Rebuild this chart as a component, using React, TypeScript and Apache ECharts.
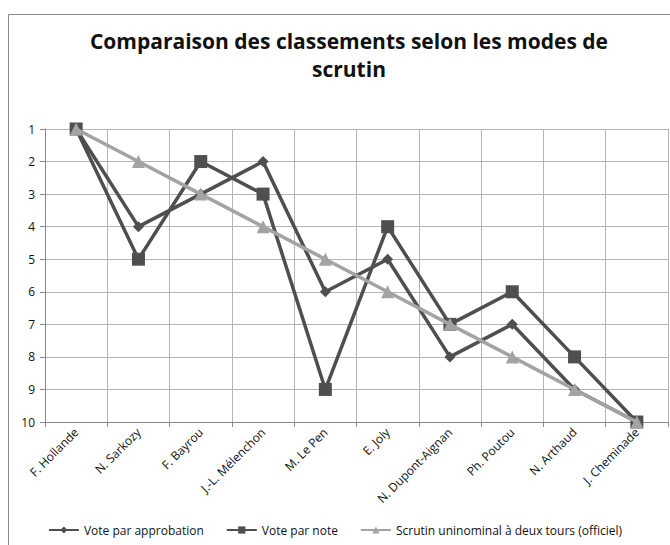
import React, { useEffect, useRef } from "react";
import * as echarts from "echarts";

const candidates = [
  "F. Hollande",
  "N. Sarkozy",
  "F. Bayrou",
  "J.-L. Mélenchon",
  "M. Le Pen",
  "E. Joly",
  "N. Dupont-Aignan",
  "Ph. Poutou",
  "N. Arthaud",
  "J. Cheminade",
];
const approbation = [1, 4, 3, 2, 6, 5, 8, 7, 9, 10];
const note = [1, 5, 2, 3, 9, 4, 7, 6, 8, 10];
const officiel = [1, 2, 3, 4, 5, 6, 7, 8, 9, 10];

const FONT = "'Open Sans', 'Noto Sans', sans-serif";

export default function App() {
  const ref = useRef<HTMLDivElement>(null);
  useEffect(() => {
    if (!ref.current) return;
    const chart = echarts.init(ref.current, undefined, { renderer: "svg" });
    const dark = "#4f4f4f";
    const light = "#a3a3a3";
    chart.setOption({
      animation: false,
      backgroundColor: "#ffffff",
      textStyle: { fontFamily: FONT },
      title: {
        text: "Comparaison des classements selon les modes de\nscrutin",
        left: 344,
        textAlign: "center",
        top: 22,
        textStyle: {
          fontFamily: FONT,
          fontSize: 21,
          fontWeight: "bold",
          color: "#111",
          lineHeight: 28,
        },
      },
      graphic: [
        {
          type: "rect",
          shape: { x: 8.5, y: 14.5, width: 700, height: 600 },
          style: { fill: "none", stroke: "#8a8a8a", lineWidth: 1 },
          silent: true,
        },
      ],
      legend: {
        bottom: 4,
        left: "center",
        itemWidth: 30,
        itemHeight: 9,
        itemGap: 22,
        textStyle: { fontFamily: FONT, fontSize: 12, color: "#111" },
        data: [
          "Vote par approbation",
          "Vote par note",
          "Scrutin uninominal à deux tours (officiel)",
        ],
      },
      grid: { left: 45, right: 2, top: 129, bottom: 123, containLabel: false },
      xAxis: {
        type: "category",
        data: candidates,
        boundaryGap: true,
        position: "bottom",
        axisLine: { onZero: false, lineStyle: { color: "#888", width: 1 } },
        axisTick: { show: true, length: 5, lineStyle: { color: "#888" } },
        splitLine: { show: true, lineStyle: { color: "#b5b5b5", width: 1 } },
        axisLabel: {
          rotate: 45,
          fontSize: 12,
          color: "#111",
          margin: 8,
          interval: 0,
          fontFamily: FONT,
        },
      },
      yAxis: {
        type: "value",
        min: 1,
        max: 10,
        interval: 1,
        inverse: true,
        axisLine: { show: true, lineStyle: { color: "#888", width: 1 } },
        axisTick: { show: true, length: 5, lineStyle: { color: "#888" } },
        splitLine: { show: true, lineStyle: { color: "#b5b5b5", width: 1 } },
        axisLabel: { fontSize: 12, color: "#111", margin: 10, fontFamily: FONT },
      },
      series: [
        {
          name: "Vote par approbation",
          type: "line",
          data: approbation,
          symbol: "diamond",
          symbolSize: 11,
          lineStyle: { color: dark, width: 3.5 },
          itemStyle: { color: dark },
          z: 3,
        },
        {
          name: "Vote par note",
          type: "line",
          data: note,
          symbol: "rect",
          symbolSize: 13,
          lineStyle: { color: dark, width: 3.5 },
          itemStyle: { color: dark },
          z: 4,
        },
        {
          name: "Scrutin uninominal à deux tours (officiel)",
          type: "line",
          data: officiel,
          symbol: "triangle",
          symbolSize: 13,
          lineStyle: { color: light, width: 3.5 },
          itemStyle: { color: light },
          z: 5,
        },
      ],
    });
    return () => chart.dispose();
  }, []);
  return (
    <div
      ref={ref}
      style={{ position: "fixed", left: 0, top: 0, width: 670, height: 545 }}
    />
  );
}
